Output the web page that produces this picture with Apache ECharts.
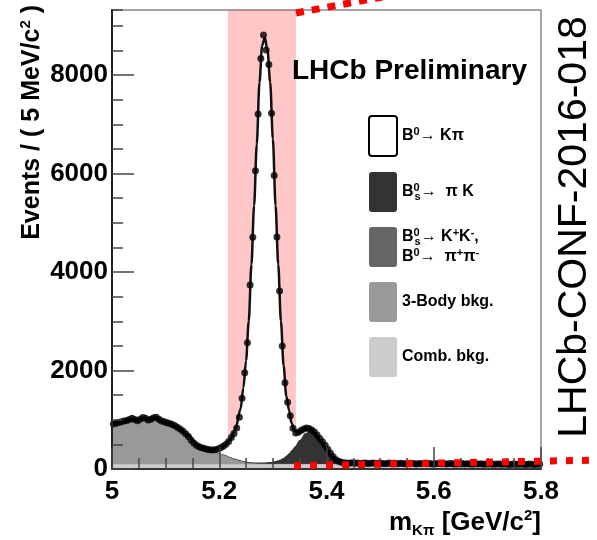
<!DOCTYPE html>
<html><head><meta charset="utf-8">
<script src="https://cdn.jsdelivr.net/npm/echarts@6/dist/echarts.min.js"></script>
<style>html,body{margin:0;padding:0;background:#fff}#c{width:597px;height:540px}</style>
</head><body><div id="c"></div>
<script>
// ---------- data ----------
const BIN_START = 5.0, BIN_WIDTH = 0.005;   // 5 MeV bins
const dataCounts = [
 915,930,945,960,975,985,1005,1030,1005,980,
 1010,1045,1030,995,1010,1040,1050,1010,975,960,
 940,925,905,880,845,805,765,715,660,590,
 530,480,450,430,415,400,390,385,390,405,
 430,460,505,560,640,720,830,1050,1435,1955,
 2564,3735,4704,6055,7207,8337,8810,8506,8215,7221,
 5962,4710,3613,2497,1752,1354,1082,826,730,745,
 780,810,830,820,790,750,690,620,555,480,
 400,320,250,190,155,135,125,
 122,118,125,115,120,112,119,124,110,117,
 121,113,116,119,108,114,120,111,115,109,
 118,113,106,112,117,110,104,113,108,115,
 107,111,103,109,114,105,110,102,108,112,
 104,99,107,111,101,106,103,98,109,100,
 105,97,102,106,99,95,103,100,96,104,
 98,93,101,97,94,100,96,92,99,95,
 91,97,94
];
const compX = [5.00,5.02,5.04,5.06,5.08,5.10,5.12,5.14,5.16,5.18,5.20,5.21,5.22,5.23,5.24,
 5.245,5.25,5.255,5.26,5.265,5.27,5.275,5.28,5.285,5.29,5.295,5.30,5.305,5.31,5.315,5.32,5.325,5.33,5.335,
 5.34,5.35,5.36,5.37,5.38,5.39,5.40,5.41,5.42,5.44,5.48,5.55,5.65,5.80];
const combBkg = [98,98,97,97,97,97,96,96,96,96,95,95,95,95,95,
 95,95,95,95,95,95,95,95,95,95,95,95,94,94,94,94,94,94,94,
 94,94,94,94,94,94,94,94,94,93,92,92,91,90];
const threeBody = [817,867,908,933,928,863,767,600,370,265,215,180,135,95,60,
 45,33,24,17,12,8,5,3,2,1,0,0,0,0,0,0,0,0,0,
 0,0,0,0,0,0,0,0,0,0,0,0,0,0];
const bsKK = [0,0,0,0,0,0,0,1,2,3,5,6,8,9,10,
 11,11,12,12,12,13,13,13,13,13,14,14,14,14,14,14,14,14,14,
 14,13,12,10,8,6,5,4,3,2,1,1,0,0];
const bsPiK = [0,0,0,0,0,0,0,0,2,3,5,6,7,8,9,
 10,11,12,13,14,16,18,20,23,27,32,40,52,68,90,120,160,210,275,
 340,480,620,680,590,456,309,171,78,30,21,15,11,6];
const b0Kpi = [0,0,0,0,0,0,2,4,10,28,100,183,345,593,1056,
 1489,2050,2857,4013,5217,6468,7719,8469,8627,8364,7709,6551,5190,3974,2802,1872,1212,882,547,
 332,168,94,26,8,4,2,1,0,0,0,0,0,0];
const signalWindow = [5.216, 5.343];
const xRange = [5, 5.8], xStep = 0.2;
const yRange = [0, 9320], yStep = 2000, yMinorStep = 500;
const seriesNames = ['B0→Kπ', 'Bs0→πK', 'Bs0→KK, B0→ππ', '3-Body bkg.', 'Comb. bkg.'];
const legendText = {
 'B0→Kπ': '{b|B}{sup|0}{b|→ Kπ}',
 'Bs0→πK': '{b|B}{supz|0}{sub|s}{b|→  π K}',
 'Bs0→KK, B0→ππ': '{b|B}{supz|0}{sub|s}{b|→ K}{sup|+}{b|K}{sup|-}{b|,}\n{b|B}{sup|0}{b|→  π}{sup|+}{b|π}{sup|-}',
 '3-Body bkg.': '{b|3-Body bkg.}',
 'Comb. bkg.': '{b|Comb. bkg.}'
};
const titleText = 'LHCb Preliminary';
const sideText = 'LHCb-CONF-2016-018';

// ---------- chart ----------
const FONT = '"Liberation Sans", Arial, Helvetica, sans-serif';
const chart = echarts.init(document.getElementById('c'), null, {renderer:'canvas'});

// stacked fit components, bottom to top (stack built here because value-axis stacking
// does not draw in this ECharts build)
const stackParts = [combBkg, threeBody, bsKK, bsPiK, b0Kpi];
const stackNames = [seriesNames[4], seriesNames[3], seriesNames[2], seriesNames[1], seriesNames[0]];
const stackColors = ['#cccccc', '#999999', '#666666', '#333333', '#ffffff'];
const cumulative = [];
stackParts.forEach((part, k) => {
  cumulative.push(part.map((v, i) => v + (k ? cumulative[k - 1][i] : 0)));
});
const toPairs = ys => compX.map((x, i) => [x, ys[i]]);
const areaSeries = [];
for (let k = stackParts.length - 1; k >= 0; k--) {
  areaSeries.push({
    name: stackNames[k], type:'line', data: toPairs(cumulative[k]),
    smooth:0.3, smoothMonotone:'x', showSymbol:false, symbol:'none', silent:true,
    lineStyle:{width:0, opacity:0}, areaStyle:{color:stackColors[k], opacity:1, origin:'start'},
    itemStyle:{color:stackColors[k]}, z:2
  });
}
const ICON = 'path://M3,0 H25 Q28,0 28,3 V37 Q28,40 25,40 H3 Q0,40 0,37 V3 Q0,0 3,0 Z';
const supStyle = {fontFamily:FONT, fontSize:11, fontWeight:'bold', color:'#000', lineHeight:11, padding:[0,0,9,0]};
const option = {
  animation:false,
  backgroundColor:'#fff',
  grid:{left:112, right:56, top:10, bottom:71, show:true, borderColor:'#888', borderWidth:1.5, backgroundColor:'transparent'},
  title:{text:titleText, left:292, top:57, padding:0,
    textStyle:{fontFamily:FONT, fontSize:28, fontWeight:'bold', color:'#000'}},
  legend:{
    orient:'vertical', left:363, top:110, itemWidth:28, itemHeight:40, itemGap:15,
    icon:ICON, selectedMode:false,
    formatter: n => legendText[n],
    textStyle:{fontFamily:FONT, fontSize:16, fontWeight:'bold', color:'#000',
      rich:{
        b:{fontFamily:FONT, fontSize:16, fontWeight:'bold', color:'#000', lineHeight:20},
        sup:supStyle,
        supz:Object.assign({}, supStyle, {width:1}),
        sub:{fontFamily:FONT, fontSize:11, fontWeight:'bold', color:'#000', lineHeight:11, padding:[9,0,0,0]}
      }},
    data:[
      {name:seriesNames[0], itemStyle:{color:'#fff', borderColor:'#000', borderWidth:2}},
      {name:seriesNames[1], itemStyle:{color:'#333333', borderWidth:0}},
      {name:seriesNames[2], itemStyle:{color:'#666666', borderWidth:0}},
      {name:seriesNames[3], itemStyle:{color:'#999999', borderWidth:0}},
      {name:seriesNames[4], itemStyle:{color:'#cccccc', borderWidth:0}}
    ]
  },
  xAxis:{
    type:'value', min:xRange[0], max:xRange[1], interval:xStep, z:10,
    axisLine:{show:true, onZero:false, lineStyle:{color:'#333', width:2}},
    axisTick:{show:true, inside:true, length:22, lineStyle:{color:'#444', width:1.5}},
    minorTick:{show:true, splitNumber:4, length:11, lineStyle:{color:'#444', width:1.5}},
    axisLabel:{fontFamily:FONT, fontSize:26, fontWeight:'bold', color:'#000', margin:10,
      showMinLabel:true, showMaxLabel:true, formatter: v => String(+v.toFixed(1))},
    splitLine:{show:false},
    name:'{m|m}{sub|Kπ}{m| [GeV/c}{sup|2}{m|]}', nameLocation:'end', nameGap:0, nameMoveOverlap:false,
    nameTextStyle:{align:'right', verticalAlign:'top', padding:[39,0,0,0],
      rich:{
        m:{fontFamily:FONT, fontSize:26, fontWeight:'bold', color:'#000', lineHeight:30},
        sub:{fontFamily:FONT, fontSize:15, fontWeight:'bold', color:'#000', lineHeight:15, padding:[15,0,0,0]},
        sup:{fontFamily:FONT, fontSize:15, fontWeight:'bold', color:'#000', lineHeight:15, padding:[0,0,15,0]}
      }}
  },
  yAxis:[{
    type:'value', min:yRange[0], max:yRange[1], interval:yStep, z:10,
    axisLine:{show:true, lineStyle:{color:'#222', width:2}},
    axisTick:{show:true, inside:true, length:22, lineStyle:{color:'#444', width:1.5}},
    axisLabel:{fontFamily:FONT, fontSize:26, fontWeight:'bold', color:'#000', margin:4,
      showMaxLabel:false, formatter: v => (v % yStep === 0 ? String(v) : '')},
    splitLine:{show:false},
    name:'{n|Events / ( 5 MeV/c}{sup|2}{n| )}', nameLocation:'end', nameGap:5, nameRotate:90, nameMoveOverlap:false,
    nameTextStyle:{align:'right', verticalAlign:'bottom', padding:[0,0,66,0],
      rich:{
        n:{fontFamily:FONT, fontSize:25, fontWeight:'bold', color:'#000', lineHeight:28},
        sup:{fontFamily:FONT, fontSize:15, fontWeight:'bold', color:'#000', lineHeight:15, padding:[0,0,13,0]}
      }}
  },{
    type:'value', min:yRange[0], max:yRange[1], interval:yMinorStep, position:'left', z:10,
    axisLine:{show:false},
    axisTick:{show:true, inside:true, length:11, lineStyle:{color:'#444', width:1.5}},
    axisLabel:{show:false}, splitLine:{show:false}
  }],
  series: areaSeries.concat([
    {name:'Total fit', type:'line', data:toPairs(cumulative[cumulative.length - 1]),
     smooth:0.3, smoothMonotone:'x', showSymbol:false, symbol:'none', silent:true, z:3,
     lineStyle:{color:'#111', width:2.5}},
    {name:'Data', type:'scatter', silent:true, z:3, symbolSize:7, itemStyle:{color:'#000'},
     data:dataCounts.map((v, i) => [BIN_START + (i + 0.5) * BIN_WIDTH, v])},
    {name:'window', type:'line', data:[], z:4, silent:true,
     markArea:{silent:true, itemStyle:{color:'rgba(255,0,0,0.22)'},
       data:[[{xAxis:signalWindow[0], yAxis:80}, {xAxis:signalWindow[1], yAxis:yRange[1]}]]}}
  ]),
  graphic:[
    {type:'text', x:575, y:227, rotation:Math.PI/2, z:100,
     style:{text:sideText, fontFamily:FONT, fontSize:41, fill:'#000', align:'center', verticalAlign:'middle'}},
    {type:'polyline', z:100, shape:{points:[[296,13],[420,-10]]},
     style:{stroke:'#ff0000', lineWidth:7, lineDash:[8,8], fill:null}},
    {type:'polyline', z:100, shape:{points:[[294,465.8],[597,460.1]]},
     style:{stroke:'#ff0000', lineWidth:7, lineDash:[7,9], fill:null}}
  ]
};
chart.setOption(option);
</script>
</body></html>
